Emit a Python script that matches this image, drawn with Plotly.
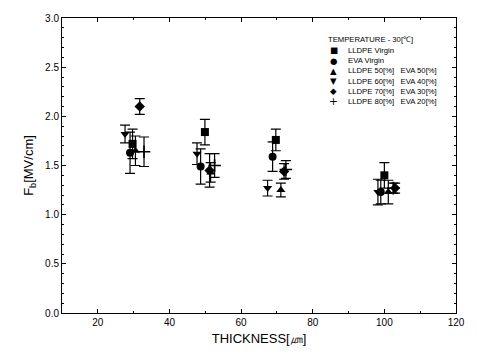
import plotly.graph_objects as go

names = ["LLDPE Virgin", "EVA Virgin", "LLDPE 50[%]   EVA 50[%]", "LLDPE 60[%]   EVA 40[%]",
         "LLDPE 70[%]   EVA 30[%]", "LLDPE 80[%]   EVA 20[%]"]
symbols = ["square", "circle", "triangle-up", "triangle-down", "diamond", "cross-thin"]
legend_glyphs = ["■", "●", "▲", "▼", "◆", "+"]
legend_title = "TEMPERATURE - 30[℃]"

x_vals = [
    [29.7, 49.9, 69.7, 100.0],
    [29.0, 48.7, 68.8, 99.0],
    [30.5, 51.5, 71.1, 101.1],
    [27.6, 47.7, 67.4, 98.2],
    [31.7, 51.2, 72.0, 103.0],
    [32.9, 52.6, 72.5, 102.5],
]
y_vals = [
    [1.72, 1.84, 1.76, 1.40],
    [1.63, 1.49, 1.59, 1.23],
    [1.65, 1.43, 1.25, 1.23],
    [1.82, 1.62, 1.27, 1.23],
    [2.10, 1.45, 1.44, 1.27],
    [1.64, 1.50, 1.46, 1.27],
]
err_vals = [
    [0.15, 0.13, 0.11, 0.13],
    [0.21, 0.18, 0.15, 0.12],
    [0.15, 0.10, 0.07, 0.12],
    [0.09, 0.11, 0.08, 0.13],
    [0.08, 0.17, 0.08, 0.05],
    [0.15, 0.12, 0.09, 0.05],
]

FONT = "Liberation Sans, Arial"

fig = go.Figure()
for n, s, xs, ys, es in zip(names, symbols, x_vals, y_vals, err_vals):
    fig.add_trace(go.Scatter(
        x=xs, y=ys, mode="markers", name=n, showlegend=False,
        marker=dict(symbol=s, size=8 if s != "cross-thin" else 9, color="black",
                    line=dict(color="black", width=1.6 if s == "cross-thin" else 0)),
        error_y=dict(type="data", array=es, visible=True, color="black", thickness=1.2, width=5),
    ))

# manual compact legend
annotations = [dict(xref="paper", yref="paper", x=0.67, y=0.928, xanchor="left", yanchor="middle",
                    text=legend_title, showarrow=False,
                    font=dict(family=FONT, size=7.7, color="black"))]
row0, step = 0.890, 0.0346
for i, (g, n) in enumerate(zip(legend_glyphs, names)):
    yy = row0 - i * step
    annotations.append(dict(xref="paper", yref="paper", x=0.69, y=yy, xanchor="center", yanchor="middle",
                            text=g, showarrow=False,
                            font=dict(family="DejaVu Sans", size=8.5 if g != "+" else 10.5, color="black")))
    annotations.append(dict(xref="paper", yref="paper", x=0.72, y=yy, xanchor="left", yanchor="middle",
                            text=n, showarrow=False,
                            font=dict(family=FONT, size=7.7, color="black")))

axis_common = dict(
    showline=True, linecolor="black", linewidth=1, mirror="ticks",
    ticks="inside", ticklen=4, tickcolor="black", showgrid=False, zeroline=False,
    tickfont=dict(family=FONT, size=10, color="black"),
)

fig.update_layout(
    width=477, height=358,
    margin=dict(l=62, r=15, t=12, b=45),
    paper_bgcolor="white", plot_bgcolor="white",
    showlegend=False,
    annotations=annotations,
    xaxis=dict(range=[10, 120], dtick=20, tick0=0,
               minor=dict(ticks="inside", ticklen=2, dtick=10, tickcolor="black"),
               title=dict(text="THICKNESS[㎛]", standoff=6,
                          font=dict(family=FONT, size=13, color="black")),
               **axis_common),
    yaxis=dict(range=[0, 3.0], dtick=0.5, tickformat=".1f",
               minor=dict(ticks="inside", ticklen=2, dtick=0.1, tickcolor="black"),
               title=dict(text="F<sub>b</sub>[MV/cm]", standoff=8,
                          font=dict(family=FONT, size=13, color="black")),
               **axis_common),
)

fig.write_html("out.html")
